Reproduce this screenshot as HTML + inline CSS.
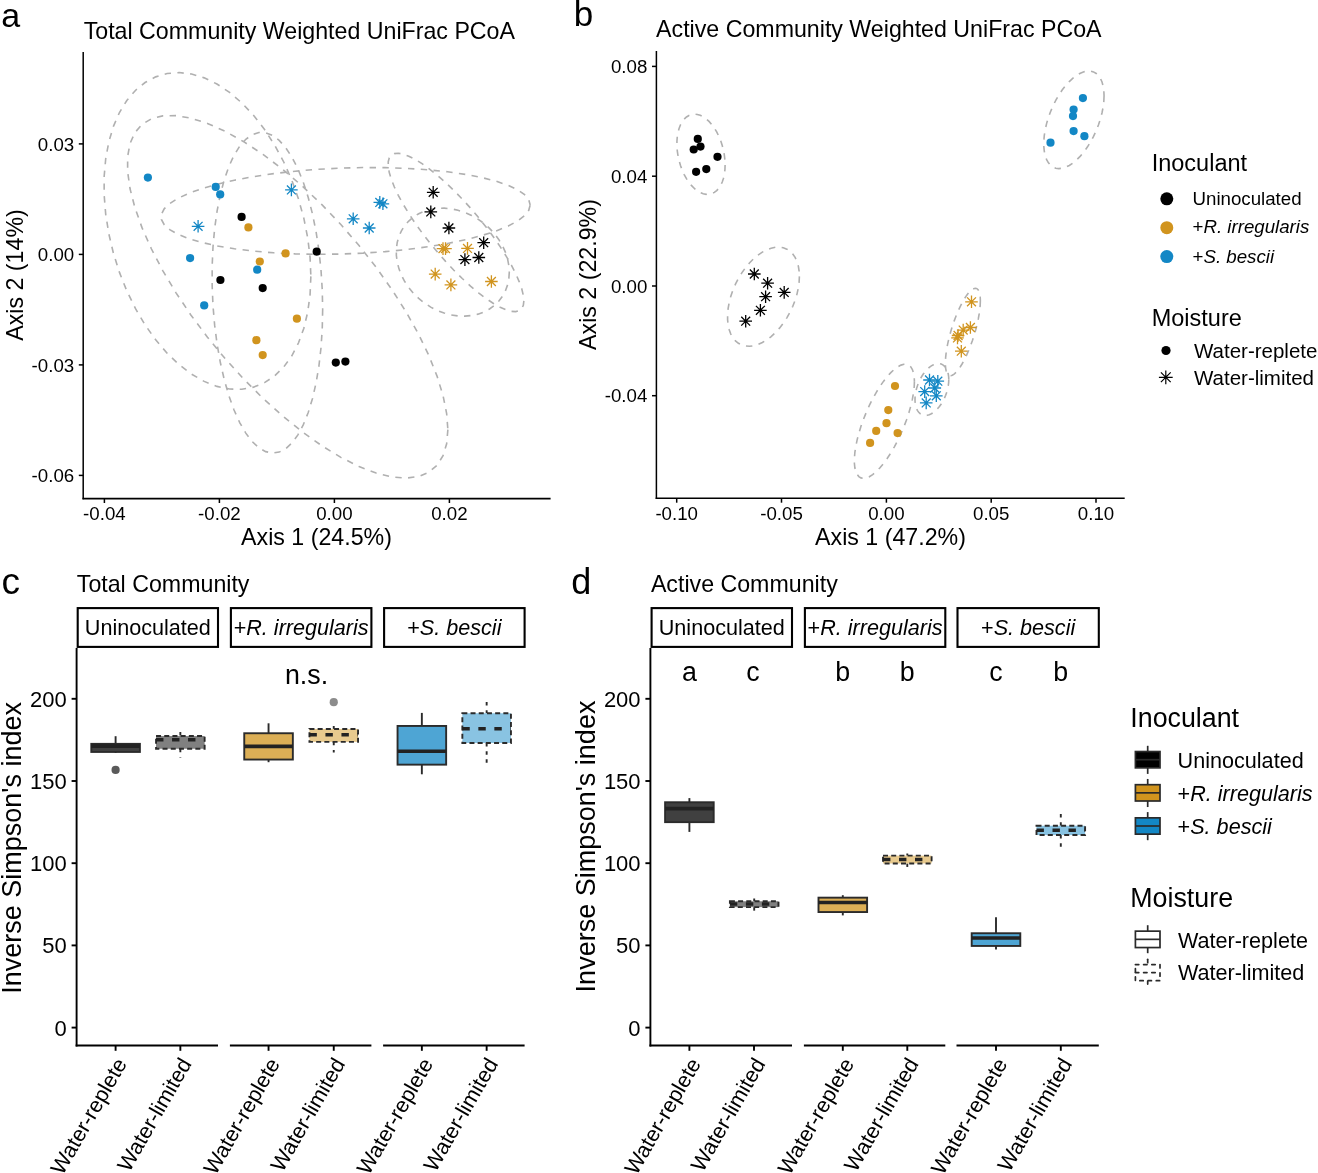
<!DOCTYPE html>
<html><head><meta charset="utf-8"><style>
html,body{margin:0;padding:0;background:#fff;width:1318px;height:1173px;overflow:hidden}
svg{display:block;font-family:"Liberation Sans", sans-serif;will-change:transform}
</style></head><body>
<svg width="1318" height="1173" viewBox="0 0 1318 1173">
<rect width="1318" height="1173" fill="#fff"/>
<text x="1.30" y="27.00" font-size="34" text-anchor="start" fill="#000" >a</text>
<text x="83.70" y="38.50" font-size="23.2" text-anchor="start" fill="#000" >Total Community Weighted UniFrac PCoA</text>
<path d="M310.86 276.36 L310.07 294.67 L307.73 312.03 L303.87 328.15 L298.55 342.80 L291.84 355.76 L283.86 366.82 L274.71 375.83 L264.55 382.64 L253.52 387.15 L241.79 389.30 L229.54 389.05 L216.95 386.40 L204.22 381.40 L191.54 374.11 L179.10 364.66 L167.09 353.18 L155.68 339.85 L145.07 324.87 L135.40 308.47 L126.81 290.90 L119.46 272.41 L113.43 253.30 L108.83 233.85 L105.72 214.36 L104.16 195.12 L104.16 176.43 L105.72 158.56 L108.83 141.79 L113.43 126.37 L119.46 112.54 L126.81 100.51 L135.40 90.45 L145.07 82.53 L155.68 76.86 L167.09 73.52 L179.10 72.57 L191.54 74.02 L204.22 77.86 L216.95 84.01 L229.54 92.39 L241.79 102.88 L253.52 115.31 L264.55 129.49 L274.71 145.21 L283.86 162.23 L291.84 180.29 L298.55 199.13 L303.87 218.44 L307.73 237.95 L310.07 257.35 L310.86 276.36" fill="none" stroke="#B0B0B0" stroke-width="1.6" stroke-dasharray="6.4 6.4"/>
<path d="M322.67 309.33 L322.25 328.81 L321.00 347.74 L318.94 365.84 L316.09 382.83 L312.51 398.45 L308.24 412.47 L303.35 424.67 L297.91 434.87 L292.02 442.92 L285.75 448.69 L279.20 452.09 L272.47 453.08 L265.66 451.63 L258.88 447.78 L252.23 441.58 L245.80 433.12 L239.71 422.53 L234.03 409.97 L228.86 395.63 L224.27 379.73 L220.34 362.52 L217.11 344.24 L214.65 325.19 L212.99 305.64 L212.16 285.89 L212.16 266.25 L212.99 247.01 L214.65 228.46 L217.11 210.88 L220.34 194.54 L224.27 179.70 L228.86 166.56 L234.03 155.34 L239.71 146.20 L245.80 139.27 L252.23 134.68 L258.88 132.48 L265.66 132.71 L272.47 135.36 L279.20 140.40 L285.75 147.75 L292.02 157.29 L297.91 168.89 L303.35 182.36 L308.24 197.50 L312.51 214.09 L316.09 231.87 L318.94 250.57 L321.00 269.91 L322.25 289.60 L322.67 309.33" fill="none" stroke="#B0B0B0" stroke-width="1.6" stroke-dasharray="6.4 6.4"/>
<path d="M447.87 429.66 L446.65 443.82 L443.03 455.75 L437.04 465.28 L428.80 472.24 L418.41 476.55 L406.04 478.13 L391.87 476.96 L376.13 473.06 L359.04 466.49 L340.86 457.34 L321.89 445.77 L302.39 431.93 L282.66 416.04 L263.01 398.35 L243.74 379.11 L225.13 358.63 L207.46 337.21 L191.02 315.18 L176.03 292.86 L162.74 270.61 L151.34 248.75 L142.00 227.63 L134.87 207.54 L130.06 188.82 L127.63 171.73 L127.63 156.53 L130.06 143.46 L134.87 132.71 L142.00 124.45 L151.34 118.81 L162.74 115.86 L176.03 115.65 L191.02 118.19 L207.46 123.44 L225.13 131.31 L243.74 141.69 L263.01 154.42 L282.66 169.31 L302.39 186.14 L321.89 204.64 L340.86 224.53 L359.04 245.52 L376.13 267.29 L391.87 289.51 L406.04 311.83 L418.41 333.93 L428.80 355.46 L437.04 376.10 L443.03 395.55 L446.65 413.49 L447.87 429.66" fill="none" stroke="#B0B0B0" stroke-width="1.6" stroke-dasharray="6.4 6.4"/>
<path d="M530.17 204.99 L528.77 210.32 L524.59 215.66 L517.70 220.92 L508.21 226.04 L496.25 230.92 L482.00 235.50 L465.69 239.71 L447.56 243.48 L427.88 246.76 L406.95 249.50 L385.10 251.65 L362.65 253.18 L339.93 254.07 L317.31 254.31 L295.11 253.89 L273.68 252.82 L253.34 251.11 L234.40 248.80 L217.15 245.91 L201.84 242.49 L188.71 238.59 L177.96 234.27 L169.75 229.60 L164.21 224.64 L161.42 219.48 L161.42 214.19 L164.21 208.84 L169.75 203.53 L177.96 198.33 L188.71 193.32 L201.84 188.58 L217.15 184.18 L234.40 180.18 L253.34 176.65 L273.68 173.64 L295.11 171.19 L317.31 169.34 L339.93 168.13 L362.65 167.56 L385.10 167.65 L406.95 168.40 L427.88 169.79 L447.56 171.80 L465.69 174.41 L482.00 177.57 L496.25 181.24 L508.21 185.36 L517.70 189.86 L524.59 194.68 L528.77 199.75 L530.17 204.99" fill="none" stroke="#B0B0B0" stroke-width="1.6" stroke-dasharray="6.4 6.4"/>
<path d="M523.86 300.84 L523.34 305.23 L521.81 308.51 L519.27 310.64 L515.78 311.58 L511.38 311.32 L506.14 309.87 L500.15 307.24 L493.48 303.48 L486.24 298.65 L478.55 292.80 L470.51 286.05 L462.25 278.48 L453.90 270.21 L445.58 261.37 L437.42 252.10 L429.54 242.52 L422.06 232.79 L415.09 223.06 L408.75 213.47 L403.12 204.16 L398.29 195.29 L394.34 186.97 L391.32 179.35 L389.28 172.53 L388.25 166.62 L388.25 161.71 L389.28 157.87 L391.32 155.16 L394.34 153.62 L398.29 153.28 L403.12 154.13 L408.75 156.18 L415.09 159.38 L422.06 163.68 L429.54 169.03 L437.42 175.34 L445.58 182.52 L453.90 190.45 L462.25 199.02 L470.51 208.10 L478.55 217.54 L486.24 227.21 L493.48 236.96 L500.15 246.64 L506.14 256.11 L511.38 265.21 L515.78 273.82 L519.27 281.81 L521.81 289.04 L523.34 295.42 L523.86 300.84" fill="none" stroke="#B0B0B0" stroke-width="1.6" stroke-dasharray="6.4 6.4"/>
<path d="M509.28 272.21 L508.85 278.66 L507.58 284.86 L505.47 290.71 L502.56 296.13 L498.90 301.03 L494.53 305.34 L489.54 309.00 L483.99 311.95 L477.96 314.14 L471.55 315.55 L464.86 316.14 L457.98 315.92 L451.03 314.88 L444.10 313.05 L437.30 310.44 L430.74 307.09 L424.51 303.07 L418.71 298.43 L413.43 293.23 L408.74 287.57 L404.72 281.52 L401.43 275.17 L398.91 268.63 L397.22 261.99 L396.36 255.35 L396.36 248.82 L397.22 242.49 L398.91 236.45 L401.43 230.80 L404.72 225.63 L408.74 221.02 L413.43 217.02 L418.71 213.71 L424.51 211.14 L430.74 209.33 L437.30 208.33 L444.10 208.14 L451.03 208.78 L457.98 210.22 L464.86 212.45 L471.55 215.43 L477.96 219.12 L483.99 223.46 L489.54 228.39 L494.53 233.83 L498.90 239.69 L502.56 245.90 L505.47 252.36 L507.58 258.96 L508.85 265.61 L509.28 272.21" fill="none" stroke="#B0B0B0" stroke-width="1.6" stroke-dasharray="6.4 6.4"/>
<path d="M725.11 165.05 L724.93 169.71 L724.39 174.14 L723.49 178.27 L722.24 182.04 L720.68 185.39 L718.82 188.26 L716.69 190.62 L714.32 192.43 L711.75 193.66 L709.01 194.30 L706.16 194.33 L703.22 193.75 L700.26 192.57 L697.30 190.81 L694.40 188.50 L691.60 185.67 L688.94 182.37 L686.47 178.64 L684.21 174.54 L682.21 170.13 L680.50 165.49 L679.09 160.67 L678.02 155.76 L677.29 150.82 L676.93 145.94 L676.93 141.18 L677.29 136.62 L678.02 132.34 L679.09 128.38 L680.50 124.82 L682.21 121.70 L684.21 119.08 L686.47 116.99 L688.94 115.46 L691.60 114.53 L694.40 114.20 L697.30 114.47 L700.26 115.35 L703.22 116.82 L706.16 118.86 L709.01 121.43 L711.75 124.51 L714.32 128.03 L716.69 131.96 L718.82 136.22 L720.68 140.75 L722.24 145.49 L723.49 150.37 L724.39 155.30 L724.93 160.22 L725.11 165.05" fill="none" stroke="#B0B0B0" stroke-width="1.6" stroke-dasharray="6.4 6.4"/>
<path d="M799.39 276.40 L799.12 282.11 L798.31 288.05 L796.97 294.11 L795.12 300.21 L792.79 306.26 L790.01 312.17 L786.84 317.84 L783.31 323.19 L779.48 328.14 L775.40 332.61 L771.15 336.54 L766.78 339.87 L762.35 342.54 L757.95 344.52 L753.63 345.77 L749.45 346.28 L745.49 346.03 L741.81 345.04 L738.45 343.32 L735.47 340.89 L732.91 337.79 L730.82 334.07 L729.22 329.78 L728.14 324.99 L727.60 319.77 L727.60 314.20 L728.14 308.37 L729.22 302.36 L730.82 296.26 L732.91 290.17 L735.47 284.19 L738.45 278.39 L741.81 272.86 L745.49 267.70 L749.45 262.98 L753.63 258.77 L757.95 255.14 L762.35 252.14 L766.78 249.81 L771.15 248.19 L775.40 247.31 L779.48 247.18 L783.31 247.80 L786.84 249.16 L790.01 251.24 L792.79 254.01 L795.12 257.42 L796.97 261.44 L798.31 265.98 L799.12 271.00 L799.39 276.40" fill="none" stroke="#B0B0B0" stroke-width="1.6" stroke-dasharray="6.4 6.4"/>
<path d="M914.42 381.64 L914.20 387.00 L913.52 392.87 L912.39 399.17 L910.85 405.80 L908.90 412.68 L906.58 419.68 L903.93 426.70 L900.97 433.64 L897.77 440.40 L894.36 446.86 L890.81 452.94 L887.15 458.54 L883.45 463.57 L879.77 467.96 L876.16 471.64 L872.67 474.56 L869.36 476.67 L866.27 477.94 L863.46 478.35 L860.97 477.89 L858.84 476.58 L857.08 474.43 L855.75 471.47 L854.85 467.75 L854.39 463.33 L854.39 458.27 L854.85 452.64 L855.75 446.55 L857.08 440.07 L858.84 433.30 L860.97 426.35 L863.46 419.32 L866.27 412.33 L869.36 405.46 L872.67 398.84 L876.16 392.56 L879.77 386.71 L883.45 381.39 L887.15 376.67 L890.81 372.63 L894.36 369.32 L897.77 366.80 L900.97 365.11 L903.93 364.27 L906.58 364.29 L908.90 365.17 L910.85 366.91 L912.39 369.47 L913.52 372.81 L914.20 376.89 L914.42 381.64" fill="none" stroke="#B0B0B0" stroke-width="1.6" stroke-dasharray="6.4 6.4"/>
<path d="M948.78 379.57 L948.65 382.59 L948.27 385.71 L947.64 388.89 L946.77 392.08 L945.67 395.23 L944.37 398.30 L942.88 401.23 L941.22 403.99 L939.42 406.52 L937.50 408.80 L935.50 410.79 L933.45 412.45 L931.37 413.77 L929.30 414.72 L927.27 415.29 L925.31 415.47 L923.45 415.25 L921.71 414.65 L920.13 413.66 L918.73 412.31 L917.53 410.62 L916.55 408.60 L915.80 406.30 L915.29 403.74 L915.03 400.96 L915.03 398.02 L915.29 394.94 L915.80 391.78 L916.55 388.59 L917.53 385.42 L918.73 382.30 L920.13 379.30 L921.71 376.45 L923.45 373.80 L925.31 371.38 L927.27 369.25 L929.30 367.42 L931.37 365.92 L933.45 364.79 L935.50 364.03 L937.50 363.65 L939.42 363.67 L941.22 364.08 L942.88 364.88 L944.37 366.05 L945.67 367.57 L946.77 369.43 L947.64 371.60 L948.27 374.03 L948.65 376.71 L948.78 379.57" fill="none" stroke="#B0B0B0" stroke-width="1.6" stroke-dasharray="6.4 6.4"/>
<path d="M980.36 300.73 L980.23 304.72 L979.84 309.13 L979.18 313.88 L978.28 318.90 L977.15 324.13 L975.80 329.47 L974.25 334.86 L972.53 340.19 L970.67 345.41 L968.68 350.42 L966.61 355.15 L964.48 359.52 L962.33 363.49 L960.18 366.97 L958.08 369.92 L956.05 372.30 L954.12 374.07 L952.32 375.19 L950.69 375.67 L949.23 375.48 L947.99 374.63 L946.97 373.13 L946.19 371.01 L945.67 368.30 L945.40 365.04 L945.40 361.28 L945.67 357.07 L946.19 352.48 L946.97 347.58 L947.99 342.45 L949.23 337.15 L950.69 331.78 L952.32 326.41 L954.12 321.12 L956.05 316.00 L958.08 311.12 L960.18 306.56 L962.33 302.38 L964.48 298.65 L966.61 295.43 L968.68 292.76 L970.67 290.68 L972.53 289.23 L974.25 288.43 L975.80 288.29 L977.15 288.81 L978.28 289.98 L979.18 291.79 L979.84 294.21 L980.23 297.21 L980.36 300.73" fill="none" stroke="#B0B0B0" stroke-width="1.6" stroke-dasharray="6.4 6.4"/>
<path d="M1104.06 95.76 L1103.83 101.16 L1103.15 106.84 L1102.03 112.72 L1100.47 118.71 L1098.52 124.71 L1096.19 130.64 L1093.53 136.40 L1090.57 141.92 L1087.35 147.09 L1083.93 151.86 L1080.36 156.13 L1076.69 159.86 L1072.98 162.98 L1069.29 165.44 L1065.66 167.22 L1062.16 168.27 L1058.84 168.59 L1055.74 168.17 L1052.92 167.02 L1050.42 165.15 L1048.28 162.59 L1046.52 159.39 L1045.18 155.58 L1044.27 151.24 L1043.82 146.41 L1043.82 141.18 L1044.27 135.63 L1045.18 129.84 L1046.52 123.90 L1048.28 117.89 L1050.42 111.92 L1052.92 106.06 L1055.74 100.41 L1058.84 95.05 L1062.16 90.07 L1065.66 85.55 L1069.29 81.54 L1072.98 78.11 L1076.69 75.31 L1080.36 73.19 L1083.93 71.77 L1087.35 71.08 L1090.57 71.13 L1093.53 71.92 L1096.19 73.43 L1098.52 75.65 L1100.47 78.54 L1102.03 82.05 L1103.15 86.13 L1103.83 90.73 L1104.06 95.76" fill="none" stroke="#B0B0B0" stroke-width="1.6" stroke-dasharray="6.4 6.4"/>
<circle cx="147.90" cy="177.60" r="4.1" fill="#1387C5" />
<circle cx="215.70" cy="186.90" r="4.1" fill="#1387C5" />
<circle cx="220.20" cy="194.40" r="4.1" fill="#1387C5" />
<circle cx="190.10" cy="258.10" r="4.1" fill="#1387C5" />
<circle cx="257.20" cy="269.70" r="4.1" fill="#1387C5" />
<circle cx="204.20" cy="305.40" r="4.1" fill="#1387C5" />
<circle cx="248.40" cy="227.40" r="4.1" fill="#D1941E" />
<circle cx="285.60" cy="253.40" r="4.1" fill="#D1941E" />
<circle cx="259.80" cy="261.50" r="4.1" fill="#D1941E" />
<circle cx="296.90" cy="318.70" r="4.1" fill="#D1941E" />
<circle cx="256.40" cy="340.20" r="4.1" fill="#D1941E" />
<circle cx="262.70" cy="355.10" r="4.1" fill="#D1941E" />
<circle cx="241.60" cy="216.90" r="4.1" fill="#000000" />
<circle cx="316.70" cy="251.70" r="4.1" fill="#000000" />
<circle cx="220.40" cy="280.00" r="4.1" fill="#000000" />
<circle cx="262.70" cy="288.10" r="4.1" fill="#000000" />
<circle cx="335.80" cy="362.60" r="4.1" fill="#000000" />
<circle cx="345.40" cy="361.60" r="4.1" fill="#000000" />
<path d="M191.80 226.30H204.40M198.10 220.00V232.60M193.65 221.85L202.55 230.75M193.65 230.75L202.55 221.85" stroke="#1387C5" stroke-width="1.3" fill="none"/>
<path d="M285.10 189.90H297.70M291.40 183.60V196.20M286.95 185.45L295.85 194.35M286.95 194.35L295.85 185.45" stroke="#1387C5" stroke-width="1.3" fill="none"/>
<path d="M346.90 218.80H359.50M353.20 212.50V225.10M348.75 214.35L357.65 223.25M348.75 223.25L357.65 214.35" stroke="#1387C5" stroke-width="1.3" fill="none"/>
<path d="M362.90 228.00H375.50M369.20 221.70V234.30M364.75 223.55L373.65 232.45M364.75 232.45L373.65 223.55" stroke="#1387C5" stroke-width="1.3" fill="none"/>
<path d="M373.50 202.40H386.10M379.80 196.10V208.70M375.35 197.95L384.25 206.85M375.35 206.85L384.25 197.95" stroke="#1387C5" stroke-width="1.3" fill="none"/>
<path d="M376.60 203.80H389.20M382.90 197.50V210.10M378.45 199.35L387.35 208.25M378.45 208.25L387.35 199.35" stroke="#1387C5" stroke-width="1.3" fill="none"/>
<path d="M426.90 192.30H439.50M433.20 186.00V198.60M428.75 187.85L437.65 196.75M428.75 196.75L437.65 187.85" stroke="#000000" stroke-width="1.3" fill="none"/>
<path d="M424.50 211.90H437.10M430.80 205.60V218.20M426.35 207.45L435.25 216.35M426.35 216.35L435.25 207.45" stroke="#000000" stroke-width="1.3" fill="none"/>
<path d="M442.60 228.00H455.20M448.90 221.70V234.30M444.45 223.55L453.35 232.45M444.45 232.45L453.35 223.55" stroke="#000000" stroke-width="1.3" fill="none"/>
<path d="M477.40 242.70H490.00M483.70 236.40V249.00M479.25 238.25L488.15 247.15M479.25 247.15L488.15 238.25" stroke="#000000" stroke-width="1.3" fill="none"/>
<path d="M458.60 259.60H471.20M464.90 253.30V265.90M460.45 255.15L469.35 264.05M460.45 264.05L469.35 255.15" stroke="#000000" stroke-width="1.3" fill="none"/>
<path d="M472.50 257.50H485.10M478.80 251.20V263.80M474.35 253.05L483.25 261.95M474.35 261.95L483.25 253.05" stroke="#000000" stroke-width="1.3" fill="none"/>
<path d="M436.70 248.60H449.30M443.00 242.30V254.90M438.55 244.15L447.45 253.05M438.55 253.05L447.45 244.15" stroke="#D1941E" stroke-width="1.3" fill="none"/>
<path d="M439.20 248.60H451.80M445.50 242.30V254.90M441.05 244.15L449.95 253.05M441.05 253.05L449.95 244.15" stroke="#D1941E" stroke-width="1.3" fill="none"/>
<path d="M461.20 248.40H473.80M467.50 242.10V254.70M463.05 243.95L471.95 252.85M463.05 252.85L471.95 243.95" stroke="#D1941E" stroke-width="1.3" fill="none"/>
<path d="M428.90 274.10H441.50M435.20 267.80V280.40M430.75 269.65L439.65 278.55M430.75 278.55L439.65 269.65" stroke="#D1941E" stroke-width="1.3" fill="none"/>
<path d="M444.60 284.90H457.20M450.90 278.60V291.20M446.45 280.45L455.35 289.35M446.45 289.35L455.35 280.45" stroke="#D1941E" stroke-width="1.3" fill="none"/>
<path d="M485.10 281.50H497.70M491.40 275.20V287.80M486.95 277.05L495.85 285.95M486.95 285.95L495.85 277.05" stroke="#D1941E" stroke-width="1.3" fill="none"/>
<circle cx="697.80" cy="138.90" r="4.1" fill="#000000" />
<circle cx="700.50" cy="146.60" r="4.1" fill="#000000" />
<circle cx="693.70" cy="149.50" r="4.1" fill="#000000" />
<circle cx="717.50" cy="156.80" r="4.1" fill="#000000" />
<circle cx="706.30" cy="169.10" r="4.1" fill="#000000" />
<circle cx="696.10" cy="171.80" r="4.1" fill="#000000" />
<path d="M748.00 274.00H760.60M754.30 267.70V280.30M749.85 269.55L758.75 278.45M749.85 278.45L758.75 269.55" stroke="#000000" stroke-width="1.3" fill="none"/>
<path d="M761.30 283.20H773.90M767.60 276.90V289.50M763.15 278.75L772.05 287.65M763.15 287.65L772.05 278.75" stroke="#000000" stroke-width="1.3" fill="none"/>
<path d="M777.90 292.40H790.50M784.20 286.10V298.70M779.75 287.95L788.65 296.85M779.75 296.85L788.65 287.95" stroke="#000000" stroke-width="1.3" fill="none"/>
<path d="M759.30 296.70H771.90M765.60 290.40V303.00M761.15 292.25L770.05 301.15M761.15 301.15L770.05 292.25" stroke="#000000" stroke-width="1.3" fill="none"/>
<path d="M754.10 310.30H766.70M760.40 304.00V316.60M755.95 305.85L764.85 314.75M755.95 314.75L764.85 305.85" stroke="#000000" stroke-width="1.3" fill="none"/>
<path d="M739.40 321.20H752.00M745.70 314.90V327.50M741.25 316.75L750.15 325.65M741.25 325.65L750.15 316.75" stroke="#000000" stroke-width="1.3" fill="none"/>
<circle cx="895.00" cy="386.00" r="4.1" fill="#D1941E" />
<circle cx="888.30" cy="410.10" r="4.1" fill="#D1941E" />
<circle cx="886.50" cy="423.20" r="4.1" fill="#D1941E" />
<circle cx="876.20" cy="430.90" r="4.1" fill="#D1941E" />
<circle cx="897.60" cy="433.10" r="4.1" fill="#D1941E" />
<circle cx="870.10" cy="442.90" r="4.1" fill="#D1941E" />
<path d="M923.20 380.00H935.80M929.50 373.70V386.30M925.05 375.55L933.95 384.45M925.05 384.45L933.95 375.55" stroke="#1387C5" stroke-width="1.3" fill="none"/>
<path d="M931.50 381.20H944.10M937.80 374.90V387.50M933.35 376.75L942.25 385.65M933.35 385.65L942.25 376.75" stroke="#1387C5" stroke-width="1.3" fill="none"/>
<path d="M928.50 388.00H941.10M934.80 381.70V394.30M930.35 383.55L939.25 392.45M930.35 392.45L939.25 383.55" stroke="#1387C5" stroke-width="1.3" fill="none"/>
<path d="M918.40 391.60H931.00M924.70 385.30V397.90M920.25 387.15L929.15 396.05M920.25 396.05L929.15 387.15" stroke="#1387C5" stroke-width="1.3" fill="none"/>
<path d="M930.00 395.80H942.60M936.30 389.50V402.10M931.85 391.35L940.75 400.25M931.85 400.25L940.75 391.35" stroke="#1387C5" stroke-width="1.3" fill="none"/>
<path d="M919.90 402.90H932.50M926.20 396.60V409.20M921.75 398.45L930.65 407.35M921.75 407.35L930.65 398.45" stroke="#1387C5" stroke-width="1.3" fill="none"/>
<path d="M965.20 301.80H977.80M971.50 295.50V308.10M967.05 297.35L975.95 306.25M967.05 306.25L975.95 297.35" stroke="#D1941E" stroke-width="1.3" fill="none"/>
<path d="M964.10 327.50H976.70M970.40 321.20V333.80M965.95 323.05L974.85 331.95M965.95 331.95L974.85 323.05" stroke="#D1941E" stroke-width="1.3" fill="none"/>
<path d="M956.90 330.10H969.50M963.20 323.80V336.40M958.75 325.65L967.65 334.55M958.75 334.55L967.65 325.65" stroke="#D1941E" stroke-width="1.3" fill="none"/>
<path d="M951.80 335.50H964.40M958.10 329.20V341.80M953.65 331.05L962.55 339.95M953.65 339.95L962.55 331.05" stroke="#D1941E" stroke-width="1.3" fill="none"/>
<path d="M951.20 337.90H963.80M957.50 331.60V344.20M953.05 333.45L961.95 342.35M953.05 342.35L961.95 333.45" stroke="#D1941E" stroke-width="1.3" fill="none"/>
<path d="M955.00 351.20H967.60M961.30 344.90V357.50M956.85 346.75L965.75 355.65M956.85 355.65L965.75 346.75" stroke="#D1941E" stroke-width="1.3" fill="none"/>
<circle cx="1082.90" cy="98.10" r="4.1" fill="#1387C5" />
<circle cx="1073.60" cy="109.60" r="4.1" fill="#1387C5" />
<circle cx="1073.00" cy="116.10" r="4.1" fill="#1387C5" />
<circle cx="1073.60" cy="131.10" r="4.1" fill="#1387C5" />
<circle cx="1084.40" cy="136.20" r="4.1" fill="#1387C5" />
<circle cx="1050.50" cy="142.70" r="4.1" fill="#1387C5" />
<line x1="83.20" y1="51.90" x2="83.20" y2="499.35" stroke="#000" stroke-width="1.5" />
<line x1="82.45" y1="498.60" x2="550.60" y2="498.60" stroke="#000" stroke-width="1.6" />
<line x1="78.80" y1="143.90" x2="83.20" y2="143.90" stroke="#000" stroke-width="1.5" />
<text x="74.20" y="150.50" font-size="18.7" text-anchor="end" fill="#000" >0.03</text>
<line x1="78.80" y1="254.40" x2="83.20" y2="254.40" stroke="#000" stroke-width="1.5" />
<text x="74.20" y="261.00" font-size="18.7" text-anchor="end" fill="#000" >0.00</text>
<line x1="78.80" y1="364.90" x2="83.20" y2="364.90" stroke="#000" stroke-width="1.5" />
<text x="74.20" y="371.50" font-size="18.7" text-anchor="end" fill="#000" >-0.03</text>
<line x1="78.80" y1="475.40" x2="83.20" y2="475.40" stroke="#000" stroke-width="1.5" />
<text x="74.20" y="482.00" font-size="18.7" text-anchor="end" fill="#000" >-0.06</text>
<line x1="104.40" y1="498.60" x2="104.40" y2="503.00" stroke="#000" stroke-width="1.5" />
<text x="104.40" y="520.30" font-size="18.7" text-anchor="middle" fill="#000" >-0.04</text>
<line x1="219.40" y1="498.60" x2="219.40" y2="503.00" stroke="#000" stroke-width="1.5" />
<text x="219.40" y="520.30" font-size="18.7" text-anchor="middle" fill="#000" >-0.02</text>
<line x1="334.40" y1="498.60" x2="334.40" y2="503.00" stroke="#000" stroke-width="1.5" />
<text x="334.40" y="520.30" font-size="18.7" text-anchor="middle" fill="#000" >0.00</text>
<line x1="449.40" y1="498.60" x2="449.40" y2="503.00" stroke="#000" stroke-width="1.5" />
<text x="449.40" y="520.30" font-size="18.7" text-anchor="middle" fill="#000" >0.02</text>
<text x="316.50" y="545.00" font-size="23.2" text-anchor="middle" fill="#000" >Axis 1 (24.5%)</text>
<text x="0.00" y="0.00" font-size="23.2" text-anchor="middle" fill="#000" transform="translate(22.8,275.0) rotate(-90)">Axis 2 (14%)</text>
<text x="573.80" y="26.20" font-size="35" text-anchor="start" fill="#000" >b</text>
<text x="656.10" y="36.90" font-size="23.2" text-anchor="start" fill="#000" >Active Community Weighted UniFrac PCoA</text>
<line x1="656.40" y1="51.10" x2="656.40" y2="499.05" stroke="#000" stroke-width="1.5" />
<line x1="655.65" y1="498.30" x2="1124.70" y2="498.30" stroke="#000" stroke-width="1.5" />
<line x1="652.00" y1="66.40" x2="656.40" y2="66.40" stroke="#000" stroke-width="1.5" />
<text x="647.30" y="73.00" font-size="18.7" text-anchor="end" fill="#000" >0.08</text>
<line x1="652.00" y1="176.20" x2="656.40" y2="176.20" stroke="#000" stroke-width="1.5" />
<text x="647.30" y="182.80" font-size="18.7" text-anchor="end" fill="#000" >0.04</text>
<line x1="652.00" y1="286.00" x2="656.40" y2="286.00" stroke="#000" stroke-width="1.5" />
<text x="647.30" y="292.60" font-size="18.7" text-anchor="end" fill="#000" >0.00</text>
<line x1="652.00" y1="395.70" x2="656.40" y2="395.70" stroke="#000" stroke-width="1.5" />
<text x="647.30" y="402.30" font-size="18.7" text-anchor="end" fill="#000" >-0.04</text>
<line x1="676.70" y1="498.30" x2="676.70" y2="502.70" stroke="#000" stroke-width="1.5" />
<text x="676.70" y="520.30" font-size="18.7" text-anchor="middle" fill="#000" >-0.10</text>
<line x1="781.50" y1="498.30" x2="781.50" y2="502.70" stroke="#000" stroke-width="1.5" />
<text x="781.50" y="520.30" font-size="18.7" text-anchor="middle" fill="#000" >-0.05</text>
<line x1="886.40" y1="498.30" x2="886.40" y2="502.70" stroke="#000" stroke-width="1.5" />
<text x="886.40" y="520.30" font-size="18.7" text-anchor="middle" fill="#000" >0.00</text>
<line x1="991.20" y1="498.30" x2="991.20" y2="502.70" stroke="#000" stroke-width="1.5" />
<text x="991.20" y="520.30" font-size="18.7" text-anchor="middle" fill="#000" >0.05</text>
<line x1="1096.00" y1="498.30" x2="1096.00" y2="502.70" stroke="#000" stroke-width="1.5" />
<text x="1096.00" y="520.30" font-size="18.7" text-anchor="middle" fill="#000" >0.10</text>
<text x="890.50" y="544.60" font-size="23.2" text-anchor="middle" fill="#000" >Axis 1 (47.2%)</text>
<text x="0.00" y="0.00" font-size="23.2" text-anchor="middle" fill="#000" transform="translate(596.2,274.5) rotate(-90)">Axis 2 (22.9%)</text>
<text x="1151.70" y="171.00" font-size="23.5" text-anchor="start" fill="#000" >Inoculant</text>
<circle cx="1166.80" cy="198.80" r="6.5" fill="#000000" />
<text x="1192.50" y="205.30" font-size="18.7" text-anchor="start" fill="#000" >Uninoculated</text>
<circle cx="1166.80" cy="227.70" r="6.5" fill="#D1941E" />
<text x="1192.50" y="232.90" font-size="18.7" text-anchor="start" fill="#000" >+<tspan font-style="italic">R. irregularis</tspan></text>
<circle cx="1166.80" cy="256.60" r="6.5" fill="#1387C5" />
<text x="1192.50" y="262.50" font-size="18.7" text-anchor="start" fill="#000" >+<tspan font-style="italic">S. bescii</tspan></text>
<text x="1151.70" y="326.20" font-size="23.5" text-anchor="start" fill="#000" >Moisture</text>
<circle cx="1166.00" cy="350.50" r="4.6" fill="#000000" />
<path d="M1158.90 377.30H1172.70M1165.80 370.40V384.20M1160.92 372.42L1170.68 382.18M1160.92 382.18L1170.68 372.42" stroke="#000000" stroke-width="1.2" fill="none"/>
<text x="1194.00" y="357.90" font-size="20.5" text-anchor="start" fill="#000" >Water-replete</text>
<text x="1194.00" y="384.60" font-size="20.5" text-anchor="start" fill="#000" >Water-limited</text>
<text x="1.40" y="593.90" font-size="37" text-anchor="start" fill="#000" >c</text>
<text x="76.80" y="592.00" font-size="23.2" text-anchor="start" fill="#000" >Total Community</text>
<rect x="77.70" y="608.1" width="140.30" height="38.8" fill="#fff" stroke="#000" stroke-width="2.1"/>
<text x="147.85" y="635.40" font-size="21.6" text-anchor="middle" fill="#000" >Uninoculated</text>
<rect x="230.90" y="608.1" width="140.50" height="38.8" fill="#fff" stroke="#000" stroke-width="2.1"/>
<text x="301.15" y="635.40" font-size="21.6" text-anchor="middle" fill="#000" >+<tspan font-style="italic">R. irregularis</tspan></text>
<rect x="384.10" y="608.1" width="140.50" height="38.8" fill="#fff" stroke="#000" stroke-width="2.1"/>
<text x="454.35" y="635.40" font-size="21.6" text-anchor="middle" fill="#000" >+<tspan font-style="italic">S. bescii</tspan></text>
<line x1="76.60" y1="648.00" x2="76.60" y2="1046.45" stroke="#000" stroke-width="1.9" />
<line x1="75.65" y1="1045.50" x2="218.00" y2="1045.50" stroke="#000" stroke-width="1.9" />
<line x1="229.90" y1="1045.50" x2="371.40" y2="1045.50" stroke="#000" stroke-width="1.9" />
<line x1="383.10" y1="1045.50" x2="524.60" y2="1045.50" stroke="#000" stroke-width="1.9" />
<line x1="71.60" y1="1027.60" x2="76.60" y2="1027.60" stroke="#000" stroke-width="1.9" />
<text x="66.80" y="1035.50" font-size="22.0" text-anchor="end" fill="#000" >0</text>
<line x1="71.60" y1="945.40" x2="76.60" y2="945.40" stroke="#000" stroke-width="1.9" />
<text x="66.80" y="953.30" font-size="22.0" text-anchor="end" fill="#000" >50</text>
<line x1="71.60" y1="863.20" x2="76.60" y2="863.20" stroke="#000" stroke-width="1.9" />
<text x="66.80" y="871.10" font-size="22.0" text-anchor="end" fill="#000" >100</text>
<line x1="71.60" y1="781.00" x2="76.60" y2="781.00" stroke="#000" stroke-width="1.9" />
<text x="66.80" y="788.90" font-size="22.0" text-anchor="end" fill="#000" >150</text>
<line x1="71.60" y1="698.80" x2="76.60" y2="698.80" stroke="#000" stroke-width="1.9" />
<text x="66.80" y="706.70" font-size="22.0" text-anchor="end" fill="#000" >200</text>
<line x1="115.60" y1="1045.50" x2="115.60" y2="1050.80" stroke="#000" stroke-width="1.9" />
<text x="0.00" y="0.00" font-size="21.6" text-anchor="end" fill="#000" transform="translate(127.60,1063.50) rotate(-60)">Water-replete</text>
<line x1="180.35" y1="1045.50" x2="180.35" y2="1050.80" stroke="#000" stroke-width="1.9" />
<text x="0.00" y="0.00" font-size="21.6" text-anchor="end" fill="#000" transform="translate(192.35,1063.50) rotate(-60)">Water-limited</text>
<line x1="268.55" y1="1045.50" x2="268.55" y2="1050.80" stroke="#000" stroke-width="1.9" />
<text x="0.00" y="0.00" font-size="21.6" text-anchor="end" fill="#000" transform="translate(280.55,1063.50) rotate(-60)">Water-replete</text>
<line x1="333.75" y1="1045.50" x2="333.75" y2="1050.80" stroke="#000" stroke-width="1.9" />
<text x="0.00" y="0.00" font-size="21.6" text-anchor="end" fill="#000" transform="translate(345.75,1063.50) rotate(-60)">Water-limited</text>
<line x1="421.85" y1="1045.50" x2="421.85" y2="1050.80" stroke="#000" stroke-width="1.9" />
<text x="0.00" y="0.00" font-size="21.6" text-anchor="end" fill="#000" transform="translate(433.85,1063.50) rotate(-60)">Water-replete</text>
<line x1="486.65" y1="1045.50" x2="486.65" y2="1050.80" stroke="#000" stroke-width="1.9" />
<text x="0.00" y="0.00" font-size="21.6" text-anchor="end" fill="#000" transform="translate(498.65,1063.50) rotate(-60)">Water-limited</text>
<text x="0.00" y="0.00" font-size="27" text-anchor="middle" fill="#000" transform="translate(20.6,847.9) rotate(-90)">Inverse Simpson's index</text>
<text x="306.50" y="683.80" font-size="26.8" text-anchor="middle" fill="#000" >n.s.</text>
<line x1="115.60" y1="736.20" x2="115.60" y2="743.85" stroke="#2B2B2B" stroke-width="1.9" />
<line x1="115.60" y1="751.95" x2="115.60" y2="752.90" stroke="#2B2B2B" stroke-width="1.9" />
<rect x="91.30" y="743.85" width="48.60" height="8.10" fill="#404040" stroke="#2B2B2B" stroke-width="1.9" />
<line x1="91.30" y1="746.10" x2="139.90" y2="746.10" stroke="#222222" stroke-width="3.6" />
<circle cx="115.60" cy="769.90" r="4.1" fill="#5A5A5A" />
<line x1="180.35" y1="732.00" x2="180.35" y2="736.05" stroke="#2B2B2B" stroke-width="1.9" stroke-dasharray="3.5 4.7"/>
<line x1="180.35" y1="748.75" x2="180.35" y2="757.40" stroke="#2B2B2B" stroke-width="1.9" stroke-dasharray="3.5 4.7"/>
<rect x="156.05" y="736.05" width="48.60" height="12.70" fill="#808080" stroke="#2B2B2B" stroke-width="1.9" stroke-dasharray="5.0 3.2"/>
<line x1="156.05" y1="739.70" x2="204.65" y2="739.70" stroke="#222222" stroke-width="3.6" stroke-dasharray="7.4 8.6"/>
<line x1="268.55" y1="723.30" x2="268.55" y2="733.25" stroke="#2B2B2B" stroke-width="1.9" />
<line x1="268.55" y1="759.55" x2="268.55" y2="762.20" stroke="#2B2B2B" stroke-width="1.9" />
<rect x="244.25" y="733.25" width="48.60" height="26.30" fill="#DCAF56" stroke="#2B2B2B" stroke-width="1.9" />
<line x1="244.25" y1="746.40" x2="292.85" y2="746.40" stroke="#222222" stroke-width="3.6" />
<line x1="333.75" y1="726.00" x2="333.75" y2="728.95" stroke="#2B2B2B" stroke-width="1.9" stroke-dasharray="3.5 4.7"/>
<line x1="333.75" y1="741.85" x2="333.75" y2="752.50" stroke="#2B2B2B" stroke-width="1.9" stroke-dasharray="3.5 4.7"/>
<rect x="309.45" y="728.95" width="48.60" height="12.90" fill="#E8CA8E" stroke="#2B2B2B" stroke-width="1.9" stroke-dasharray="5.0 3.2"/>
<line x1="309.45" y1="734.70" x2="358.05" y2="734.70" stroke="#222222" stroke-width="3.6" stroke-dasharray="7.4 8.6"/>
<circle cx="333.75" cy="702.20" r="4.1" fill="#8C8C8C" />
<line x1="421.85" y1="712.90" x2="421.85" y2="725.95" stroke="#2B2B2B" stroke-width="1.9" />
<line x1="421.85" y1="764.65" x2="421.85" y2="774.30" stroke="#2B2B2B" stroke-width="1.9" />
<rect x="397.55" y="725.95" width="48.60" height="38.70" fill="#4EA5D4" stroke="#2B2B2B" stroke-width="1.9" />
<line x1="397.55" y1="751.20" x2="446.15" y2="751.20" stroke="#222222" stroke-width="3.6" />
<line x1="486.65" y1="702.00" x2="486.65" y2="713.25" stroke="#2B2B2B" stroke-width="1.9" stroke-dasharray="3.5 4.7"/>
<line x1="486.65" y1="742.95" x2="486.65" y2="763.10" stroke="#2B2B2B" stroke-width="1.9" stroke-dasharray="3.5 4.7"/>
<rect x="462.35" y="713.25" width="48.60" height="29.70" fill="#89C3E2" stroke="#2B2B2B" stroke-width="1.9" stroke-dasharray="5.0 3.2"/>
<line x1="462.35" y1="728.70" x2="510.95" y2="728.70" stroke="#222222" stroke-width="3.6" stroke-dasharray="7.4 8.6"/>
<text x="571.20" y="594.40" font-size="36" text-anchor="start" fill="#000" >d</text>
<text x="650.90" y="592.10" font-size="23.2" text-anchor="start" fill="#000" >Active Community</text>
<rect x="651.60" y="608.1" width="140.40" height="38.8" fill="#fff" stroke="#000" stroke-width="2.1"/>
<text x="721.80" y="635.40" font-size="21.6" text-anchor="middle" fill="#000" >Uninoculated</text>
<rect x="804.90" y="608.1" width="140.40" height="38.8" fill="#fff" stroke="#000" stroke-width="2.1"/>
<text x="875.10" y="635.40" font-size="21.6" text-anchor="middle" fill="#000" >+<tspan font-style="italic">R. irregularis</tspan></text>
<rect x="957.50" y="608.1" width="141.30" height="38.8" fill="#fff" stroke="#000" stroke-width="2.1"/>
<text x="1028.15" y="635.40" font-size="21.6" text-anchor="middle" fill="#000" >+<tspan font-style="italic">S. bescii</tspan></text>
<line x1="650.40" y1="648.00" x2="650.40" y2="1046.45" stroke="#000" stroke-width="1.9" />
<line x1="649.45" y1="1045.50" x2="792.00" y2="1045.50" stroke="#000" stroke-width="1.9" />
<line x1="803.90" y1="1045.50" x2="945.30" y2="1045.50" stroke="#000" stroke-width="1.9" />
<line x1="956.50" y1="1045.50" x2="1098.80" y2="1045.50" stroke="#000" stroke-width="1.9" />
<line x1="645.40" y1="1027.60" x2="650.40" y2="1027.60" stroke="#000" stroke-width="1.9" />
<text x="640.60" y="1035.50" font-size="22.0" text-anchor="end" fill="#000" >0</text>
<line x1="645.40" y1="945.40" x2="650.40" y2="945.40" stroke="#000" stroke-width="1.9" />
<text x="640.60" y="953.30" font-size="22.0" text-anchor="end" fill="#000" >50</text>
<line x1="645.40" y1="863.20" x2="650.40" y2="863.20" stroke="#000" stroke-width="1.9" />
<text x="640.60" y="871.10" font-size="22.0" text-anchor="end" fill="#000" >100</text>
<line x1="645.40" y1="781.00" x2="650.40" y2="781.00" stroke="#000" stroke-width="1.9" />
<text x="640.60" y="788.90" font-size="22.0" text-anchor="end" fill="#000" >150</text>
<line x1="645.40" y1="698.80" x2="650.40" y2="698.80" stroke="#000" stroke-width="1.9" />
<text x="640.60" y="706.70" font-size="22.0" text-anchor="end" fill="#000" >200</text>
<line x1="689.40" y1="1045.50" x2="689.40" y2="1050.80" stroke="#000" stroke-width="1.9" />
<text x="0.00" y="0.00" font-size="21.6" text-anchor="end" fill="#000" transform="translate(701.40,1063.50) rotate(-60)">Water-replete</text>
<line x1="754.00" y1="1045.50" x2="754.00" y2="1050.80" stroke="#000" stroke-width="1.9" />
<text x="0.00" y="0.00" font-size="21.6" text-anchor="end" fill="#000" transform="translate(766.00,1063.50) rotate(-60)">Water-limited</text>
<line x1="842.80" y1="1045.50" x2="842.80" y2="1050.80" stroke="#000" stroke-width="1.9" />
<text x="0.00" y="0.00" font-size="21.6" text-anchor="end" fill="#000" transform="translate(854.80,1063.50) rotate(-60)">Water-replete</text>
<line x1="907.30" y1="1045.50" x2="907.30" y2="1050.80" stroke="#000" stroke-width="1.9" />
<text x="0.00" y="0.00" font-size="21.6" text-anchor="end" fill="#000" transform="translate(919.30,1063.50) rotate(-60)">Water-limited</text>
<line x1="996.00" y1="1045.50" x2="996.00" y2="1050.80" stroke="#000" stroke-width="1.9" />
<text x="0.00" y="0.00" font-size="21.6" text-anchor="end" fill="#000" transform="translate(1008.00,1063.50) rotate(-60)">Water-replete</text>
<line x1="1060.80" y1="1045.50" x2="1060.80" y2="1050.80" stroke="#000" stroke-width="1.9" />
<text x="0.00" y="0.00" font-size="21.6" text-anchor="end" fill="#000" transform="translate(1072.80,1063.50) rotate(-60)">Water-limited</text>
<text x="0.00" y="0.00" font-size="27" text-anchor="middle" fill="#000" transform="translate(594.6,846.5) rotate(-90)">Inverse Simpson's index</text>
<text x="689.40" y="680.80" font-size="26.8" text-anchor="middle" fill="#000" >a</text>
<text x="752.90" y="680.80" font-size="26.8" text-anchor="middle" fill="#000" >c</text>
<text x="842.80" y="680.80" font-size="26.8" text-anchor="middle" fill="#000" >b</text>
<text x="907.30" y="680.80" font-size="26.8" text-anchor="middle" fill="#000" >b</text>
<text x="996.00" y="680.80" font-size="26.8" text-anchor="middle" fill="#000" >c</text>
<text x="1060.80" y="680.80" font-size="26.8" text-anchor="middle" fill="#000" >b</text>
<line x1="689.40" y1="798.10" x2="689.40" y2="802.25" stroke="#2B2B2B" stroke-width="1.9" />
<line x1="689.40" y1="822.15" x2="689.40" y2="831.90" stroke="#2B2B2B" stroke-width="1.9" />
<rect x="665.10" y="802.25" width="48.60" height="19.90" fill="#404040" stroke="#2B2B2B" stroke-width="1.9" />
<line x1="665.10" y1="808.60" x2="713.70" y2="808.60" stroke="#222222" stroke-width="3.6" />
<line x1="754.20" y1="898.50" x2="754.20" y2="901.25" stroke="#2B2B2B" stroke-width="1.9" stroke-dasharray="3.5 4.7"/>
<line x1="754.20" y1="907.15" x2="754.20" y2="911.00" stroke="#2B2B2B" stroke-width="1.9" stroke-dasharray="3.5 4.7"/>
<rect x="729.90" y="901.25" width="48.60" height="5.90" fill="#808080" stroke="#2B2B2B" stroke-width="1.9" stroke-dasharray="5.0 3.2"/>
<line x1="729.90" y1="904.00" x2="778.50" y2="904.00" stroke="#222222" stroke-width="3.6" stroke-dasharray="7.4 8.6"/>
<line x1="842.80" y1="895.20" x2="842.80" y2="897.65" stroke="#2B2B2B" stroke-width="1.9" />
<line x1="842.80" y1="912.05" x2="842.80" y2="915.40" stroke="#2B2B2B" stroke-width="1.9" />
<rect x="818.50" y="897.65" width="48.60" height="14.40" fill="#DCAF56" stroke="#2B2B2B" stroke-width="1.9" />
<line x1="818.50" y1="902.50" x2="867.10" y2="902.50" stroke="#222222" stroke-width="3.6" />
<line x1="907.30" y1="853.50" x2="907.30" y2="855.65" stroke="#2B2B2B" stroke-width="1.9" stroke-dasharray="3.5 4.7"/>
<line x1="907.30" y1="863.45" x2="907.30" y2="867.30" stroke="#2B2B2B" stroke-width="1.9" stroke-dasharray="3.5 4.7"/>
<rect x="883.00" y="855.65" width="48.60" height="7.80" fill="#E8CA8E" stroke="#2B2B2B" stroke-width="1.9" stroke-dasharray="5.0 3.2"/>
<line x1="883.00" y1="859.50" x2="931.60" y2="859.50" stroke="#222222" stroke-width="3.6" stroke-dasharray="7.4 8.6"/>
<line x1="996.00" y1="917.30" x2="996.00" y2="933.25" stroke="#2B2B2B" stroke-width="1.9" />
<line x1="996.00" y1="945.95" x2="996.00" y2="949.50" stroke="#2B2B2B" stroke-width="1.9" />
<rect x="971.70" y="933.25" width="48.60" height="12.70" fill="#4EA5D4" stroke="#2B2B2B" stroke-width="1.9" />
<line x1="971.70" y1="938.00" x2="1020.30" y2="938.00" stroke="#222222" stroke-width="3.6" />
<line x1="1060.80" y1="814.00" x2="1060.80" y2="825.75" stroke="#2B2B2B" stroke-width="1.9" stroke-dasharray="3.5 4.7"/>
<line x1="1060.80" y1="835.05" x2="1060.80" y2="847.50" stroke="#2B2B2B" stroke-width="1.9" stroke-dasharray="3.5 4.7"/>
<rect x="1036.50" y="825.75" width="48.60" height="9.30" fill="#89C3E2" stroke="#2B2B2B" stroke-width="1.9" stroke-dasharray="5.0 3.2"/>
<line x1="1036.50" y1="830.20" x2="1085.10" y2="830.20" stroke="#222222" stroke-width="3.6" stroke-dasharray="7.4 8.6"/>
<text x="1130.30" y="727.00" font-size="26.8" text-anchor="start" fill="#000" >Inoculant</text>
<line x1="1147.70" y1="745.80" x2="1147.70" y2="751.55" stroke="#2A2A2A" stroke-width="1.7" />
<line x1="1147.70" y1="767.85" x2="1147.70" y2="773.90" stroke="#2A2A2A" stroke-width="1.7" />
<rect x="1135.40" y="751.55" width="24.60" height="16.30" fill="#000000" stroke="#2A2A2A" stroke-width="1.7" />
<line x1="1135.40" y1="759.70" x2="1160.00" y2="759.70" stroke="#2A2A2A" stroke-width="1.7" />
<text x="1177.60" y="768.00" font-size="21.6" text-anchor="start" fill="#000" >Uninoculated</text>
<line x1="1147.70" y1="778.95" x2="1147.70" y2="784.70" stroke="#2A2A2A" stroke-width="1.7" />
<line x1="1147.70" y1="801.00" x2="1147.70" y2="807.05" stroke="#2A2A2A" stroke-width="1.7" />
<rect x="1135.40" y="784.70" width="24.60" height="16.30" fill="#D1941E" stroke="#2A2A2A" stroke-width="1.7" />
<line x1="1135.40" y1="792.85" x2="1160.00" y2="792.85" stroke="#2A2A2A" stroke-width="1.7" />
<text x="1177.60" y="801.15" font-size="21.6" text-anchor="start" fill="#000" >+<tspan font-style="italic">R. irregularis</tspan></text>
<line x1="1147.70" y1="812.10" x2="1147.70" y2="817.85" stroke="#2A2A2A" stroke-width="1.7" />
<line x1="1147.70" y1="834.15" x2="1147.70" y2="840.20" stroke="#2A2A2A" stroke-width="1.7" />
<rect x="1135.40" y="817.85" width="24.60" height="16.30" fill="#1387C5" stroke="#2A2A2A" stroke-width="1.7" />
<line x1="1135.40" y1="826.00" x2="1160.00" y2="826.00" stroke="#2A2A2A" stroke-width="1.7" />
<text x="1177.60" y="834.30" font-size="21.6" text-anchor="start" fill="#000" >+<tspan font-style="italic">S. bescii</tspan></text>
<text x="1130.30" y="906.80" font-size="26.8" text-anchor="start" fill="#000" >Moisture</text>
<line x1="1147.70" y1="925.20" x2="1147.70" y2="931.15" stroke="#2A2A2A" stroke-width="1.7" />
<line x1="1147.70" y1="947.55" x2="1147.70" y2="953.20" stroke="#2A2A2A" stroke-width="1.7" />
<rect x="1135.40" y="931.15" width="24.60" height="16.40" fill="#FFFFFF" stroke="#2A2A2A" stroke-width="1.7" />
<line x1="1135.40" y1="939.35" x2="1160.00" y2="939.35" stroke="#2A2A2A" stroke-width="1.7" />
<line x1="1147.70" y1="959.30" x2="1147.70" y2="964.60" stroke="#2A2A2A" stroke-width="1.7" stroke-dasharray="3.4 4.8" stroke-linecap="round"/>
<line x1="1147.70" y1="980.65" x2="1147.70" y2="986.60" stroke="#2A2A2A" stroke-width="1.7" stroke-dasharray="3.4 4.8" stroke-linecap="round"/>
<rect x="1135.40" y="964.60" width="24.60" height="16.05" fill="#FFFFFF" stroke="#2A2A2A" stroke-width="1.7" stroke-dasharray="3.4 4.8" stroke-linecap="round"/>
<line x1="1135.40" y1="972.62" x2="1160.00" y2="972.62" stroke="#2A2A2A" stroke-width="1.7" stroke-dasharray="3.4 4.8" stroke-linecap="round"/>
<text x="1177.90" y="947.70" font-size="21.6" text-anchor="start" fill="#000" >Water-replete</text>
<text x="1177.90" y="980.40" font-size="21.6" text-anchor="start" fill="#000" >Water-limited</text>
</svg>
</body></html>
